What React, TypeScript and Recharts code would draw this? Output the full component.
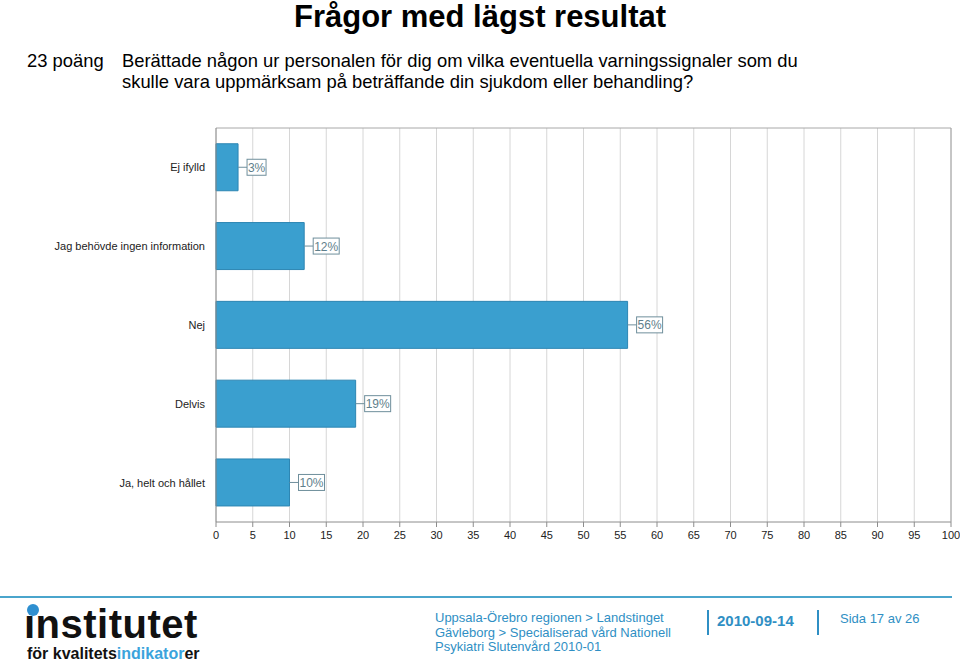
import React from "react";
import {
  Bar,
  BarChart,
  CartesianGrid,
  LabelList,
  XAxis,
  YAxis,
} from "recharts";

const categories = [
  "Ej ifylld",
  "Jag behövde ingen information",
  "Nej",
  "Delvis",
  "Ja, helt och hållet",
];
const percentValues = [3, 12, 56, 19, 10];
const xTicks = [0, 5, 10, 15, 20, 25, 30, 35, 40, 45, 50, 55, 60, 65, 70, 75, 80, 85, 90, 95, 100];

// minor tick marks only (no labels)
const xMinorTicks = Array.from({ length: 61 }, (_, i) => (i * 5) / 3);
const yMinorTicks = Array.from({ length: 31 }, (_, i) => i);

const chartData = categories.map((name, i) => ({ name, value: percentValues[i] }));

const BLUE = "#3a9fcf";
const FONT = "'Liberation Sans', Arial, sans-serif";

const NoTick = () => <g />;

const ValueBox = (props: any) => {
  const { x, y, width, height, value } = props;
  const text = `${value}%`;
  const x0 = x + width;
  const cy = y + height / 2;
  const boxW = text.length * 7 + 5;
  return (
    <g>
      <line x1={x0} y1={cy} x2={x0 + 9} y2={cy} stroke="#6f8f9c" />
      <rect x={x0 + 9} y={cy - 8} width={boxW} height={16} fill="#fff" stroke="#6f8f9c" />
      <text
        x={x0 + 9 + boxW / 2}
        y={cy + 4.5}
        textAnchor="middle"
        fontSize={12}
        fontFamily={FONT}
        fill="#5f7f8c"
      >
        {text}
      </text>
    </g>
  );
};

const App = () => {
  return (
    <div
      style={{
        position: "absolute",
        left: 0,
        top: 0,
        width: 960,
        height: 661,
        background: "#fff",
        fontFamily: FONT,
        overflow: "hidden",
      }}
    >
      <div
        style={{
          position: "absolute",
          top: 1,
          left: 0,
          width: 960,
          textAlign: "center",
          fontSize: 31,
          lineHeight: "31px",
          fontWeight: "bold",
          color: "#000",
        }}
      >
        Frågor med lägst resultat
      </div>
      <div style={{ position: "absolute", top: 50, left: 27, fontSize: 18.4, lineHeight: "21px", color: "#000" }}>
        23 poäng
      </div>
      <div
        style={{
          position: "absolute",
          top: 50,
          left: 122,
          fontSize: 18.4,
          lineHeight: "21px",
          color: "#000",
          width: 800,
        }}
      >
        Berättade någon ur personalen för dig om vilka eventuella varningssignaler som du
        <br />
        skulle vara uppmärksam på beträffande din sjukdom eller behandling?
      </div>

      <div style={{ position: "absolute", top: 0, left: 0 }}>
        <BarChart
          width={960}
          height={560}
          data={chartData}
          layout="vertical"
          barCategoryGap="20%"
          margin={{ top: 127, right: 8, left: 0, bottom: 8 }}
        >
          <CartesianGrid horizontal={false} stroke="#d6d6d6" xAxisId="main" yAxisId="cat" />
          <XAxis
            xAxisId="main"
            type="number"
            domain={[0, 100]}
            ticks={xTicks}
            interval={0}
            tickSize={5}
            tickMargin={4}
            height={30}
            stroke="#8c8c8c"
            tick={{ fontSize: 11, fill: "#222", fontFamily: FONT }}
          />
          <XAxis
            xAxisId="minor"
            type="number"
            domain={[0, 100]}
            ticks={xMinorTicks}
            interval={0}
            mirror
            tickSize={3}
            axisLine={false}
            stroke="#8c8c8c"
            tick={NoTick}
          />
          <XAxis
            xAxisId="top"
            orientation="top"
            type="number"
            domain={[0, 100]}
            height={1}
            tick={false}
            tickLine={false}
            stroke="#a8a8a8"
          />
          <YAxis
            yAxisId="cat"
            type="category"
            dataKey="name"
            width={216}
            tickLine={false}
            tickSize={5}
            tickMargin={6}
            stroke="#8c8c8c"
            tick={{ fontSize: 11, fill: "#222", fontFamily: FONT }}
          />
          <YAxis
            yAxisId="minor"
            type="number"
            domain={[0, 30]}
            ticks={yMinorTicks}
            interval={0}
            mirror
            width={0}
            tickSize={-4}
            axisLine={false}
            stroke="#8c8c8c"
            tick={NoTick}
          />
          <YAxis
            yAxisId="right"
            orientation="right"
            type="number"
            domain={[0, 30]}
            width={1}
            tick={false}
            tickLine={false}
            stroke="#a0a0a0"
          />
          <Bar
            dataKey="value"
            xAxisId="main"
            yAxisId="cat"
            fill={BLUE}
            stroke="#2d86b3"
            isAnimationActive={false}
          >
            <LabelList dataKey="value" content={ValueBox} />
          </Bar>
        </BarChart>
      </div>

      {/* footer */}
      <div
        style={{
          position: "absolute",
          top: 596,
          left: 0,
          width: 952,
          height: 2,
          background: "#4aa5cc",
        }}
      />
      <div style={{ position: "absolute", left: 24, top: 604 }}>
        <div
          style={{
            position: "relative",
            fontSize: 40,
            fontWeight: "bold",
            letterSpacing: 0.5,
            color: "#111",
            lineHeight: "40px",
            height: 40,
          }}
        >
          ınstitutet
          <span
            style={{
              position: "absolute",
              left: 3,
              top: 0,
              width: 12,
              height: 12,
              borderRadius: 6,
              background: "#2e8fd0",
            }}
          />
        </div>
        <div
          style={{
            fontSize: 16,
            lineHeight: "16px",
            fontWeight: "bold",
            color: "#111",
            marginTop: 2,
            marginLeft: 3,
          }}
        >
          för kvalitets<span style={{ color: "#3aa3dc" }}>indikator</span>er
        </div>
      </div>

      <div
        style={{
          position: "absolute",
          left: 435,
          top: 611,
          fontSize: 13,
          lineHeight: "14.5px",
          color: "#2f8fc4",
        }}
      >
        Uppsala-Örebro regionen &gt; Landstinget
        <br />
        Gävleborg &gt; Specialiserad vård Nationell
        <br />
        Psykiatri Slutenvård 2010-01
      </div>
      <div style={{ position: "absolute", left: 707, top: 610, width: 2, height: 25, background: "#2f8fc4" }} />
      <div
        style={{
          position: "absolute",
          left: 717,
          top: 612,
          fontSize: 15,
          fontWeight: "bold",
          color: "#2f8fc4",
        }}
      >
        2010-09-14
      </div>
      <div style={{ position: "absolute", left: 817, top: 610, width: 2, height: 25, background: "#2f8fc4" }} />
      <div style={{ position: "absolute", left: 840, top: 611, fontSize: 13, color: "#2f8fc4" }}>
        Sida 17 av 26
      </div>
    </div>
  );
};

export default App;
